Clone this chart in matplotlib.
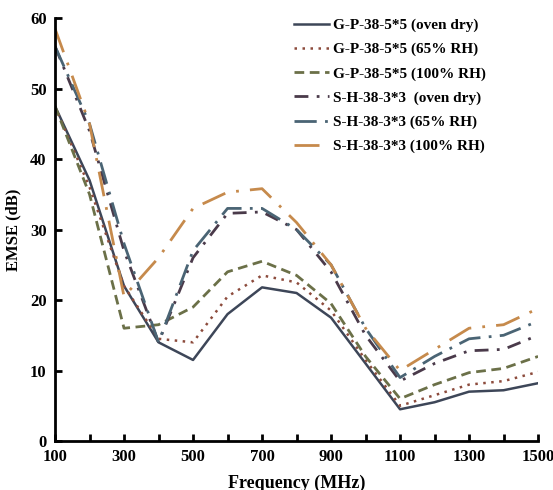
import matplotlib
matplotlib.use("Agg")
import matplotlib.pyplot as plt

freq = [100, 200, 300, 400, 500, 600, 700, 800, 900, 1000, 1100, 1200, 1300, 1400, 1500]
gp_dry = [47.5, 37, 22, 14, 11.5, 18, 21.8, 21, 17.5, 11, 4.5, 5.5, 7, 7.2, 8.2]
gp_65 = [47.5, 36, 22, 14.5, 14, 20.5, 23.5, 22.5, 18.5, 11.5, 5, 6.5, 8, 8.5, 9.8]
gp_100 = [47.5, 35, 16, 16.5, 19, 24, 25.5, 23.5, 19.5, 12, 6, 8, 9.7, 10.3, 12]
sh_dry = [56, 44, 27, 14, 26, 32.3, 32.5, 30, 24, 15, 8.5, 11, 12.8, 13, 15]
sh_65 = [56, 45, 28, 14, 27, 33, 33, 30, 25, 16, 9, 12, 14.5, 15, 17]
sh_100 = [58.5, 45, 20.5, 26, 33, 35.3, 35.8, 31, 25, 16, 10, 13, 16, 16.5, 18.8]

labels = ["G-P-38-5*5 (oven dry)", "G-P-38-5*5 (65% RH)", "G-P-38-5*5 (100% RH)",
          "S-H-38-3*3  (oven dry)", "S-H-38-3*3 (65% RH)", "S-H-38-3*3 (100% RH)"]
xticklabels = ["100", "300", "500", "700", "900", "1100", "1300", "1500"]

plt.rcParams['font.family'] = ['Liberation Serif', 'DejaVu Serif']
plt.rcParams['font.weight'] = 'bold'

fig = plt.figure(figsize=(5.53, 4.90), dpi=100)
ax = fig.add_axes([0.0995, 0.1, 0.8735, 0.863])

styles = [
    dict(color='#3d4658', linestyle='-', linewidth=1.8),
    dict(color='#8c4b3c', linestyle=(0, (1, 2.2)), linewidth=1.8),
    dict(color='#6b7048', linestyle=(0, (3.5, 2)), linewidth=2.0),
    dict(color='#4a3a4a', linestyle=(0, (5, 3, 1, 3)), linewidth=2.0),
    dict(color='#4a6474', linestyle=(0, (8, 3, 1, 3)), linewidth=2.0),
    dict(color='#c68a4c', linestyle=(0, (9, 4, 1, 4)), linewidth=2.0),
]
for data, lab, st in zip([gp_dry, gp_65, gp_100, sh_dry, sh_65, sh_100], labels, styles):
    ax.plot(freq, data, label=lab, **st)

ax.set_xlim(100, 1500)
ax.set_ylim(0, 60)
ax.set_xticks(freq)
ax.set_xticklabels([str(f) if str(f) in xticklabels else "" for f in freq])
ax.set_yticks(range(0, 61, 10))
for s in ['top', 'right']:
    ax.spines[s].set_visible(False)
for s in ['left', 'bottom']:
    ax.spines[s].set_linewidth(2.0)
ax.tick_params(direction='in', width=2, length=5, labelsize=12, pad=6)
for lab in ax.get_xticklabels() + ax.get_yticklabels():
    lab.set_fontweight('bold')
ax.set_xlabel("Frequency (MHz)", fontsize=13, fontweight='bold', labelpad=7)
ax.set_ylabel("EMSE (dB)", fontsize=12, fontweight='bold', labelpad=6)

leg = fig.legend(loc='upper right', bbox_to_anchor=(0.904, 0.991), frameon=False,
                 prop={'family': 'Liberation Serif', 'weight': 'bold', 'size': 11},
                 handlelength=2.3, handletextpad=0.25, labelspacing=0.68)

fig.savefig("out.png", dpi=100)
